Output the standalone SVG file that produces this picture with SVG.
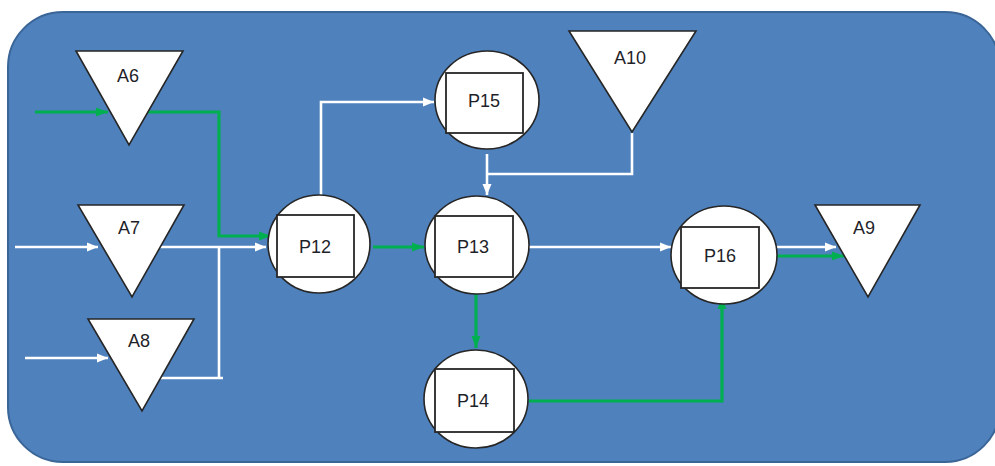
<svg xmlns="http://www.w3.org/2000/svg" width="995" height="466" viewBox="0 0 995 466">
  <defs>
    <marker id="arrW" markerUnits="userSpaceOnUse" markerWidth="11" markerHeight="10" refX="11" refY="5" orient="auto">
      <path d="M0,0.5 L11,5 L0,9.5 z" fill="#ffffff"/>
    </marker>
    <marker id="arrG" markerUnits="userSpaceOnUse" markerWidth="12" markerHeight="10" refX="12" refY="5" orient="auto">
      <path d="M0,0.5 L12,5 L0,9.5 z" fill="#00B050"/>
    </marker>
    <style>
      .bg { fill: #4F81BD; stroke: #3A6597; stroke-width: 2; }
      .tri { fill: #ffffff; stroke: #262626; stroke-width: 1.6; stroke-linejoin: miter; }
      .circ { fill: #ffffff; stroke: #262626; stroke-width: 1.6; }
      .box { fill: #ffffff; stroke: #262626; stroke-width: 1.8; }
      .lbl { font-family: "Liberation Sans", Arial, sans-serif; font-size: 18px; fill: #1f1f2a; text-anchor: middle; }
      .w { fill: none; stroke: #ffffff; stroke-width: 2.6; }
      .g { fill: none; stroke: #00B050; stroke-width: 3.2; }
    </style>
  </defs>

  <rect width="995" height="466" fill="#ffffff"/>
  <rect class="bg" x="8" y="12" width="992" height="450" rx="55" ry="55"/>

  <!-- connectors -->
  <g id="connectors">
    <path class="g" d="M35,112 H108" marker-end="url(#arrG)"/>
    <path class="g" d="M148,112 H219 V236 H271" marker-end="url(#arrG)"/>
    <path class="w" d="M15,247 H98" marker-end="url(#arrW)"/>
    <path class="w" d="M158,247 H266" marker-end="url(#arrW)"/>
    <path class="w" d="M160,378 H223 M219,378 V247"/>
    <path class="w" d="M25,358 H108" marker-end="url(#arrW)"/>
    <path class="w" d="M321,195 V102 H434" marker-end="url(#arrW)"/>
    <path class="w" d="M487,154 V195" marker-end="url(#arrW)"/>
    <path class="w" d="M632,133 V174 H487"/>
    <path class="g" d="M373,247 H424" marker-end="url(#arrG)"/>
    <path class="w" d="M529,247 H671" marker-end="url(#arrW)"/>
    <path class="g" d="M476,287 V348" marker-end="url(#arrG)"/>
    <path class="g" d="M529,401 H722 V297" marker-end="url(#arrG)"/>
    <path class="w" d="M776,247 H836" marker-end="url(#arrW)"/>
    <path class="g" d="M774,256 H844" marker-end="url(#arrG)"/>
  </g>

  <!-- source / sink triangles -->
  <g id="A6">
    <polygon class="tri" points="76,51 183,51 129,145"/>
    <text class="lbl" x="128" y="82">A6</text>
  </g>
  <g id="A7">
    <polygon class="tri" points="78,205 184,205 132,297"/>
    <text class="lbl" x="129" y="234">A7</text>
  </g>
  <g id="A8">
    <polygon class="tri" points="88,319 194,319 142,411"/>
    <text class="lbl" x="139" y="347">A8</text>
  </g>
  <g id="A10">
    <polygon class="tri" points="569,31 696,31 632,132"/>
    <text class="lbl" x="630" y="64">A10</text>
  </g>
  <g id="A9">
    <polygon class="tri" points="815,205 920,205 868,297"/>
    <text class="lbl" x="864" y="234">A9</text>
  </g>

  <!-- process nodes -->
  <g id="P12">
    <ellipse class="circ" cx="319" cy="244" rx="51" ry="49"/>
    <rect class="box" x="277" y="215" width="77" height="62"/>
    <text class="lbl" x="315" y="253">P12</text>
  </g>
  <g id="P15">
    <ellipse class="circ" cx="487" cy="100" rx="52" ry="49"/>
    <rect class="box" x="446" y="73" width="77" height="60"/>
    <text class="lbl" x="484" y="107">P15</text>
  </g>
  <g id="P13">
    <ellipse class="circ" cx="477" cy="245" rx="52" ry="49"/>
    <rect class="box" x="435" y="216" width="78" height="61"/>
    <text class="lbl" x="473" y="253">P13</text>
  </g>
  <g id="P14">
    <ellipse class="circ" cx="476" cy="399" rx="52" ry="49"/>
    <rect class="box" x="435" y="369" width="79" height="63"/>
    <text class="lbl" x="473" y="407">P14</text>
  </g>
  <g id="P16">
    <ellipse class="circ" cx="724" cy="255" rx="53" ry="49"/>
    <rect class="box" x="681" y="227" width="78" height="61"/>
    <text class="lbl" x="720" y="262">P16</text>
  </g>
</svg>
